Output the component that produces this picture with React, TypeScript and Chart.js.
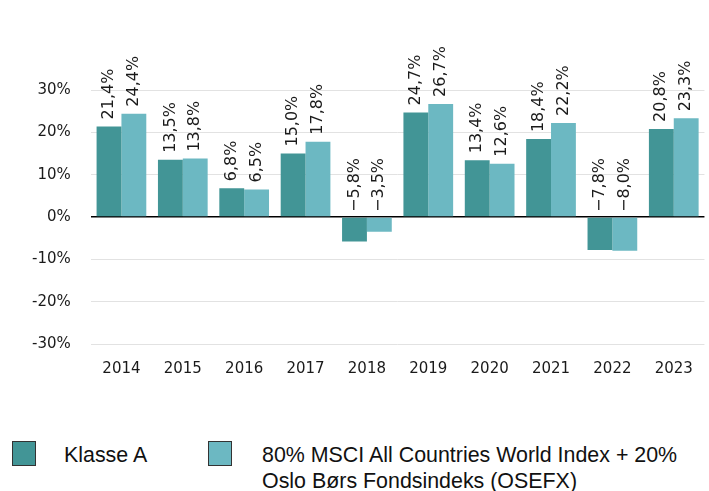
import React, { useEffect, useRef } from "react";
import { Chart, registerables } from "chart.js";

Chart.register(...registerables);

const years = ["2014", "2015", "2016", "2017", "2018", "2019", "2020", "2021", "2022", "2023"];
const klasseA = [21.4, 13.5, 6.8, 15.0, -5.8, 24.7, 13.4, 18.4, -7.8, 20.8];
const benchmark = [24.4, 13.8, 6.5, 17.8, -3.5, 26.7, 12.6, 22.2, -8.0, 23.3];
const seriesNames = ["Klasse A", "80% MSCI All Countries World Index + 20% Oslo Børs Fondsindeks (OSEFX)"];
const colors = ["#429596", "#6cb8c2"];

const fmt = (v: number) => (v < 0 ? "\u2212" : "") + Math.abs(v).toFixed(1).replace(".", ",") + "%";

const labelPlugin = {
  id: "barLabels",
  afterDatasetsDraw(chart: any) {
    const ctx = chart.ctx;
    const zeroY = chart.scales.y.getPixelForValue(0);
    ctx.save();
    ctx.font = "16px 'DejaVu Sans'";
    ctx.fillStyle = "#1a1a1a";
    ctx.textAlign = "left";
    ctx.textBaseline = "middle";
    chart.data.datasets.forEach((ds: any, di: number) => {
      const meta = chart.getDatasetMeta(di);
      meta.data.forEach((el: any, i: number) => {
        const v = ds.data[i];
        const y = v >= 0 ? el.y - 7 : zeroY - 5;
        ctx.save();
        ctx.translate(el.x, y);
        ctx.rotate(-Math.PI / 2);
        ctx.fillText(fmt(v), 0, 0);
        ctx.restore();
      });
    });
    ctx.restore();
  },
};

export default function App() {
  const ref = useRef<HTMLCanvasElement>(null);
  useEffect(() => {
    if (!ref.current) return;
    const chart = new Chart(ref.current, {
      type: "bar",
      data: {
        labels: years,
        datasets: [
          { label: seriesNames[0], data: klasseA, backgroundColor: colors[0] },
          { label: seriesNames[1], data: benchmark, backgroundColor: colors[1] },
        ],
      },
      options: {
        animation: false,
        responsive: false,
        maintainAspectRatio: false,
        layout: { padding: { top: 90, bottom: 6, left: 12, right: 3 } },
        datasets: { bar: { categoryPercentage: 0.81, barPercentage: 1 } },
        plugins: { legend: { display: false }, tooltip: { enabled: false } },
        scales: {
          x: {
            grid: { display: false, drawTicks: false },
            border: { display: false },
            ticks: { padding: 16, color: "#1a1a1a", font: { family: "'DejaVu Sans'", size: 15 } },
          },
          y: {
            min: -30,
            max: 30,
            grid: {
              drawTicks: false,
              color: (c: any) => (c.tick && c.tick.value === 0 ? "#000000" : "#e2e2e2"),
              lineWidth: (c: any) => (c.tick && c.tick.value === 0 ? 1.5 : 1),
            },
            border: { display: false },
            ticks: {
              stepSize: 10,
              padding: 20,
              color: "#1a1a1a",
              font: { family: "'DejaVu Sans'", size: 15 },
              callback: (v: any) => v + "%",
            },
          },
        },
      },
      plugins: [labelPlugin],
    });
    return () => chart.destroy();
  }, []);

  const legendText: React.CSSProperties = {
    position: "absolute",
    fontFamily: "'Liberation Sans', Arial, sans-serif",
    fontSize: 21.4,
    lineHeight: "26px",
    color: "#111",
  };
  const box = (bg: string, left: number): React.CSSProperties => ({
    position: "absolute",
    left,
    top: 441,
    width: 24,
    height: 25,
    background: bg,
    border: "1px solid #333",
    boxSizing: "border-box",
  });

  return (
    <div style={{ position: "absolute", left: 0, top: 0, width: 709, height: 491, background: "#fff" }}>
      <canvas ref={ref} width={709} height={400} style={{ display: "block" }} />
      <div style={box(colors[0], 12)} />
      <div style={{ ...legendText, left: 64, top: 442 }}>{seriesNames[0]}</div>
      <div style={box(colors[1], 208)} />
      <div style={{ ...legendText, left: 262, top: 442, width: 445 }}>
        80% MSCI All Countries World Index + 20%
        <br />
        Oslo Børs Fondsindeks (OSEFX)
      </div>
    </div>
  );
}
